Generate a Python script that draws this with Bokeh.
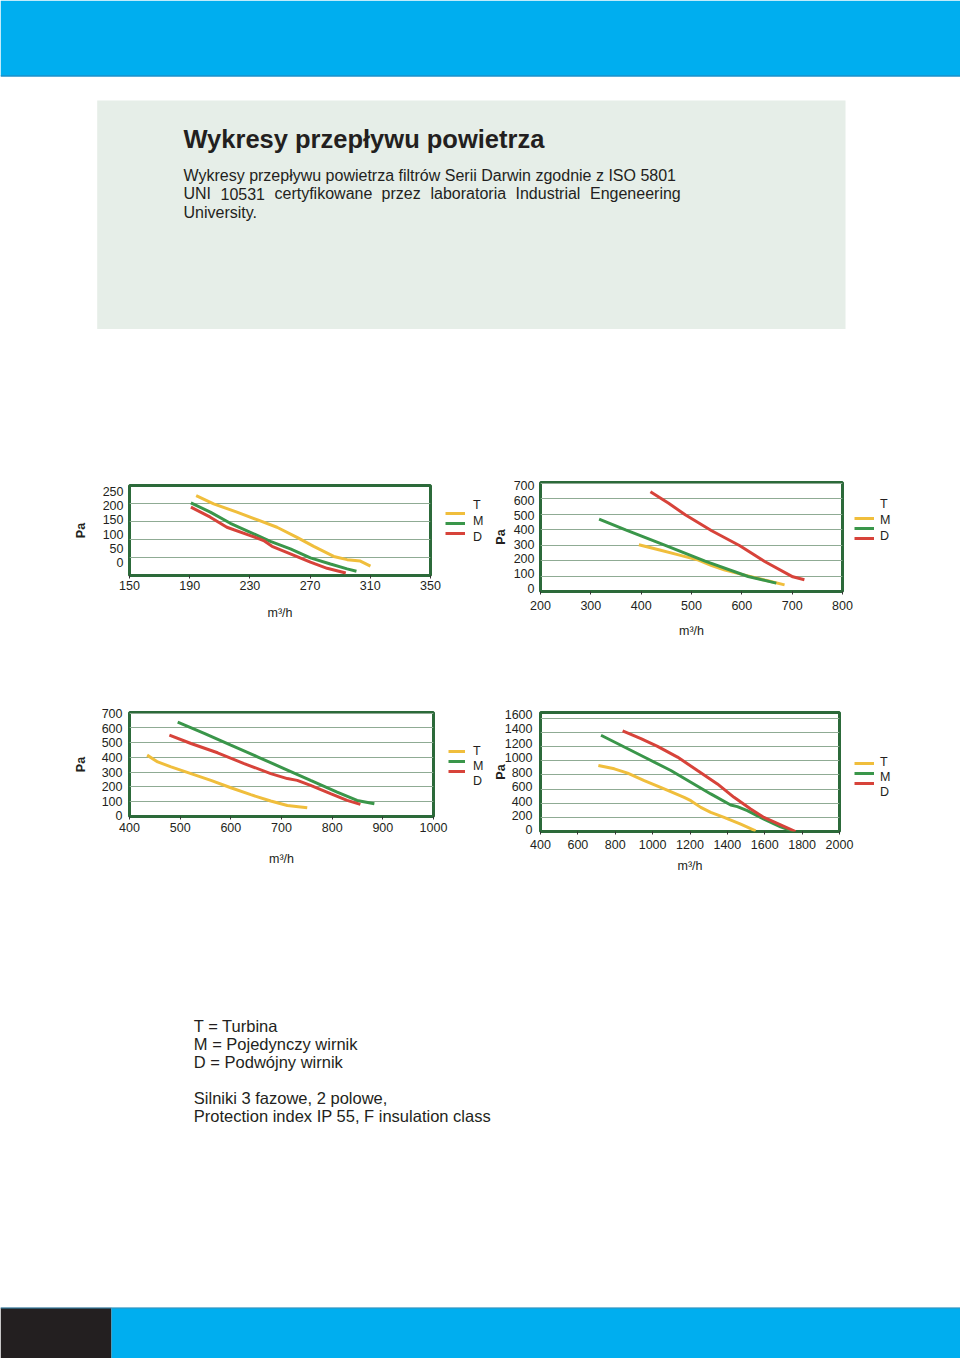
from bokeh.plotting import figure
from bokeh.layouts import column, row
from bokeh.models import Range1d, LinearAxis, FixedTicker, Grid, Legend, LegendItem, Spacer
from bokeh.core.properties import value
from bokeh.embed import file_html
from bokeh.resources import INLINE

# ------------------------------------------------------------------ data
series_labels = ["T", "M", "D"]

# chart 1
c1_x_ticks = [150, 190, 230, 270, 310, 350]
c1_y_ticks = [0, 50, 100, 150, 200, 250]
c1_T_x = [194.3, 205.9, 221.4, 234.7, 248.0, 261.3, 272.4, 285.7, 294.6, 303.4, 310.1]
c1_T_y = [222, 199, 176, 155, 134, 106, 81, 53, 44, 40, 26]
c1_M_x = [190.8, 203.7, 217.0, 230.3, 243.6, 256.9, 270.2, 283.5, 294.6, 300.8]
c1_M_y = [202, 176, 145, 120, 95, 74, 49, 32, 18.5, 12]
c1_D_x = [190.8, 203.7, 214.7, 230.3, 239.1, 244.7, 256.9, 270.2, 281.3, 293.7]
c1_D_y = [190, 162, 134, 111, 97, 81, 60, 37, 20, 7]

# chart 2
c2_x_ticks = [200, 300, 400, 500, 600, 700, 800]
c2_y_ticks = [0, 100, 200, 300, 400, 500, 600, 700]
c2_T_x = [395.4, 434.9, 474.3, 513.8, 540.1, 566.4, 605.9, 645.4, 684.9]
c2_T_y = [302, 270, 237, 203, 168, 138, 106, 74, 43]
c2_M_x = [316.4, 369.1, 448.0, 527.0, 612.5, 668.4]
c2_M_y = [468, 399, 298, 196, 97, 54]
c2_D_x = [418.4, 454.6, 487.5, 540.1, 596.1, 645.4, 701.3, 724.3]
c2_D_y = [645, 571, 496, 393, 296, 194, 95, 76]

# chart 3
c3_x_ticks = [400, 500, 600, 700, 800, 900, 1000]
c3_y_ticks = [0, 100, 200, 300, 400, 500, 600, 700]
c3_T_x = [434.8, 455.7, 482.0, 521.3, 560.7, 600.0, 639.3, 678.7, 711.5, 750.8]
c3_T_y = [416, 370, 336, 291, 245, 195, 148, 105, 75, 59]
c3_M_x = [495.1, 547.5, 600.0, 652.5, 704.9, 757.4, 809.8, 849.2, 883.3]
c3_M_y = [639, 564, 484, 405, 325, 245, 166, 109, 86]
c3_D_x = [478.7, 521.3, 573.8, 626.2, 678.7, 711.5, 731.1, 757.4, 796.7, 829.5, 855.7]
c3_D_y = [552, 495, 432, 359, 291, 257, 245, 211, 155, 109, 82]

# chart 4
c4_x_ticks = [400, 600, 800, 1000, 1200, 1400, 1600, 1800, 2000]
c4_y_ticks = [0, 200, 400, 600, 800, 1000, 1200, 1400, 1600]
c4_T_x = [709.6, 795.0, 866.2, 955.2, 1061.9, 1168.7, 1204.3, 1257.7, 1311.0, 1382.2, 1471.2, 1551.2]
c4_T_y = [934, 886, 825, 720, 602, 483, 436, 341, 270, 199, 104, 9]
c4_M_x = [723.8, 848.4, 973.0, 1097.5, 1204.3, 1311.0, 1417.8, 1453.4, 1506.8, 1595.7, 1684.7, 1755.9]
c4_M_y = [1360, 1194, 1028, 862, 697, 531, 374, 351, 294, 175, 66, 0]
c4_D_x = [839.5, 937.4, 1026.3, 1133.1, 1239.9, 1346.6, 1435.6, 1524.6, 1595.7, 1684.7, 1764.8]
c4_D_y = [1422, 1313, 1204, 1052, 862, 673, 483, 318, 199, 95, 0]

title_text = "Wykresy przepływu powietrza"
para_line1 = "Wykresy przepływu powietrza filtrów Serii Darwin zgodnie z ISO 5801"
para_line2 = ["UNI", "10531", "certyfikowane", "przez", "laboratoria", "Industrial", "Engeneering"]
para_line3 = "University."
footer_lines = ["T = Turbina", "M = Pojedynczy wirnik", "D = Podwójny wirnik",
                "Silniki 3 fazowe, 2 polowe,", "Protection index IP 55, F insulation class"]

# ------------------------------------------------------------------ style
FONT = "Liberation Sans"
YELLOW = "#f0be3c"
GREEN = "#3a964a"
RED = "#d7433a"
COLORS = [YELLOW, GREEN, RED]
FRAME = "#2c6a3a"
GRIDC = "#8fab94"
TXT = "#231f20"
BLUE = "#00aeef"
PANEL = "#e6eee8"
NAN = float("nan")


def chart(width, height, borders, x_ticks, y_max, y_ticks, lab_range, series,
          x_std, x_lab_std, y_std, y_lab_std):
    left, right, top, bottom = borders
    p = figure(width=width, height=height, title=None, output_backend="svg",
               toolbar_location=None,
               x_range=Range1d(x_ticks[0], x_ticks[-1]), y_range=Range1d(0, y_max),
               y_axis_location=None,
               min_border_left=left, min_border_right=right,
               min_border_top=top, min_border_bottom=bottom,
               background_fill_color="white", border_fill_color="white")
    p.outline_line_color = FRAME
    p.outline_line_width = 3
    p.xgrid.visible = False
    p.ygrid.visible = False
    grid_ticks = [t for t in y_ticks if 0 < t < y_max - 3]
    p.add_layout(Grid(dimension=1, ticker=FixedTicker(ticks=grid_ticks),
                      grid_line_color=GRIDC, grid_line_width=1.2))

    xa = p.xaxis[0]
    xa.ticker = FixedTicker(ticks=x_ticks)
    xa.axis_label = "m³/h"
    xa.axis_line_color = None
    xa.major_tick_out = 3
    xa.major_tick_in = 0
    xa.major_tick_line_color = "#333333"
    xa.minor_tick_line_color = None
    xa.major_label_standoff = x_std
    xa.axis_label_standoff = x_lab_std
    xa.major_label_text_font = FONT
    xa.major_label_text_font_size = "12.5px"
    xa.major_label_text_color = TXT
    xa.axis_label_text_font = FONT
    xa.axis_label_text_font_size = "12.5px"
    xa.axis_label_text_font_style = "normal"
    xa.axis_label_text_color = TXT

    p.extra_y_ranges = {"lab": Range1d(*lab_range)}
    ya = LinearAxis(y_range_name="lab", ticker=FixedTicker(ticks=y_ticks),
                    axis_label="Pa")
    ya.axis_line_color = None
    ya.major_tick_line_color = None
    ya.major_tick_out = 0
    ya.major_tick_in = 0
    ya.minor_tick_line_color = None
    ya.major_label_standoff = y_std
    ya.axis_label_standoff = y_lab_std
    ya.major_label_text_font = FONT
    ya.major_label_text_font_size = "12.5px"
    ya.major_label_text_color = TXT
    ya.axis_label_text_font = FONT
    ya.axis_label_text_font_size = "12.5px"
    ya.axis_label_text_font_style = "bold"
    ya.axis_label_text_color = TXT
    p.add_layout(ya, "left")

    for (xs, ys), col in zip(series, COLORS):
        p.line(xs, ys, line_color=col, line_width=3)
    return p


def legend_fig(width, height, top, bottom, legB, legA):
    """Side area holding the T/M/D key of a chart."""
    f = figure(width=width, height=height, title=None, output_backend="svg",
               toolbar_location=None, x_range=Range1d(0, 1), y_range=Range1d(0, 1),
               min_border_left=0, min_border_right=0,
               min_border_top=top, min_border_bottom=bottom,
               x_axis_location=None, y_axis_location=None,
               background_fill_color="white", border_fill_color="white")
    f.grid.visible = False
    f.outline_line_color = None
    # key renderers (one undefined point each: nothing drawn in the plot area)
    keys = [f.line(x=[NAN], y=[NAN], line_color=col, line_width=3) for col in COLORS]

    (bx, by, bh, bw) = legB
    lb = Legend(items=[LegendItem(label=" ", renderers=[r]) for r in keys],
                location=(bx, by), glyph_width=bw, glyph_height=bh, label_height=bh,
                label_text_font_size="1px", label_standoff=0, label_width=1,
                spacing=0, padding=0, margin=0, border_line_color=None,
                background_fill_alpha=0)
    f.add_layout(lb, "center")

    (axx, ayy, ah) = legA
    la = Legend(items=[LegendItem(label=lab, renderers=[r]) for lab, r in zip(series_labels, keys)],
                location=(axx, ayy), glyph_width=0, glyph_height=1, label_height=ah,
                label_text_font=FONT, label_text_font_size="12.5px", label_text_color=TXT,
                label_standoff=0, spacing=0, padding=0, margin=0, border_line_color=None,
                background_fill_alpha=0)
    f.add_layout(la, "center")
    return f


c1 = chart(442, 187, (129, 12, 12, 85), c1_x_ticks, 250, c1_y_ticks, (-44, 270),
           [(c1_T_x, c1_T_y), (c1_M_x, c1_M_y), (c1_D_x, c1_D_y)], 2, 13, 6, 12)
l1 = legend_fig(48, 187, 12, 85, (3, 37, 10, 20), (31, 30, 16))
c2 = chart(364, 206, (48, 12, 12, 85), c2_x_ticks, 705, c2_y_ticks, (-23, 723),
           [(c2_T_x, c2_T_y), (c2_M_x, c2_M_y), (c2_D_x, c2_D_y)], 6, 11, 6, 3)
l2 = legend_fig(106, 206, 12, 85, (0, 48, 10, 20), (26, 47, 16))
c3 = chart(448, 214, (129, 15, 36, 74), c3_x_ticks, 705, c3_y_ticks, (-5, 709),
           [(c3_T_x, c3_T_y), (c3_M_x, c3_M_y), (c3_D_x, c3_D_y)], 3, 17, 7, 11)
l3 = legend_fig(42, 214, 36, 74, (0, 40, 10, 17), (25, 28, 15))
c4 = chart(364, 229, (49, 15, 36, 74), c4_x_ticks, 1682, c4_y_ticks, (-23, 1628),
           [(c4_T_x, c4_T_y), (c4_M_x, c4_M_y), (c4_D_x, c4_D_y)], 5, 7, 8, -6)
l4 = legend_fig(106, 229, 36, 74, (0, 43, 10, 20), (26, 32, 15))


def page_fig(y0, y1):
    f = figure(width=960, height=int(y1 - y0), title=None, output_backend="svg",
               toolbar_location=None, x_range=Range1d(0, 960), y_range=Range1d(y1, y0),
               min_border=0, x_axis_location=None, y_axis_location=None,
               background_fill_color="white", border_fill_color="white")
    f.grid.visible = False
    f.outline_line_color = None
    return f


header = page_fig(0, 470)
header.quad(left=[0], right=[960], top=[0], bottom=[75.5], fill_color=BLUE, line_color=None)
header.segment(x0=[0], y0=[75.5], x1=[960], y1=[75.5], line_color="#1b8fca", line_width=1.5)
header.quad(left=[96.7], right=[845], top=[100], bottom=[328.5], fill_color=PANEL, line_color=None)
header.text(x=[183], y=[138.5], text=[title_text], text_font=value(FONT),
            text_font_size="25.5px", text_font_style="bold", text_color=TXT,
            text_baseline="alphabetic")
header.text(x=[183], y=[174.5], text=[para_line1], text_font=value(FONT),
            text_font_size="16px", text_color=TXT, text_baseline="alphabetic")
word_x = [183, 220, 274, 381, 430, 515, 589.5]
header.text(x=word_x, y=[193] * len(word_x), text=para_line2, text_font=value(FONT),
            text_font_size="16px", text_color=TXT, text_baseline="alphabetic")
header.text(x=[183], y=[211.5], text=[para_line3], text_font=value(FONT),
            text_font_size="16px", text_color=TXT, text_baseline="alphabetic")

footer = page_fig(905, 1358)
footer.text(x=[193.3] * 5, y=[1025, 1043.5, 1061.5, 1097.5, 1115.5], text=footer_lines,
            text_font=value(FONT), text_font_size="16.5px", text_color=TXT,
            text_baseline="alphabetic")
footer.quad(left=[0], right=[111], top=[1307.3], bottom=[1358], fill_color="#231f20", line_color=None)
footer.quad(left=[111], right=[960], top=[1307.3], bottom=[1358], fill_color=BLUE, line_color=None)
footer.segment(x0=[0], y0=[1307.5], x1=[960], y1=[1307.5], line_color="#3a8fb8", line_width=1)

row1 = row(column(Spacer(width=442, height=3), c1),
           column(Spacer(width=48, height=3), l1), c2, l2)
row2 = row(c3, l3, c4, l4)
layout = column(header, row1, row2, footer)
open("out.html", "w").write(file_html(layout, INLINE))
